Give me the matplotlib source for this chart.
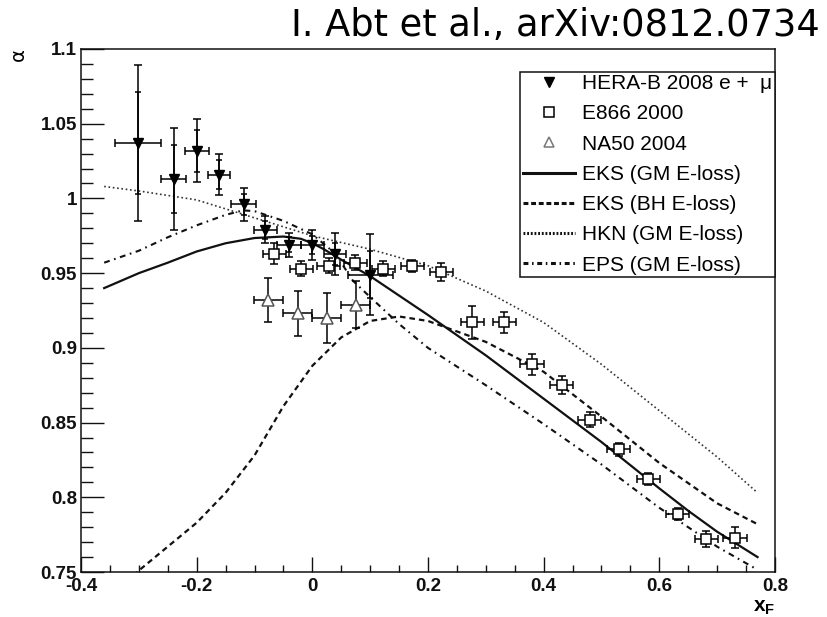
import matplotlib
matplotlib.use("Agg")
import matplotlib.pyplot as plt
from matplotlib.lines import Line2D
from matplotlib.ticker import MultipleLocator, FixedLocator

# HERA-B 2008 (e + mu), total and statistical errors
herab_x = [-0.301, -0.240, -0.200, -0.161, -0.119, -0.081, -0.040, 0.000, 0.039, 0.100]
herab_y = [1.037, 1.013, 1.032, 1.016, 0.996, 0.979, 0.969, 0.969, 0.963, 0.949]
herab_xerr = [0.040, 0.021, 0.021, 0.019, 0.021, 0.020, 0.021, 0.020, 0.019, 0.039]
herab_tot = [0.052, 0.034, 0.021, 0.014, 0.011, 0.009, 0.008, 0.010, 0.014, 0.027]
herab_stat = [0.034, 0.023, 0.014, 0.0095, 0.007, 0.006, 0.005, 0.006, 0.0075, 0.0155]

# E866 2000
e866_x = [-0.066, -0.019, 0.028, 0.074, 0.123, 0.173, 0.223, 0.277, 0.332, 0.380,
          0.431, 0.480, 0.530, 0.581, 0.632, 0.681, 0.731]
e866_y = [0.963, 0.953, 0.955, 0.957, 0.953, 0.955, 0.951, 0.917, 0.917, 0.889,
          0.875, 0.852, 0.832, 0.812, 0.789, 0.772, 0.773]
e866_xerr = [0.020] * 17
e866_yerr = [0.007, 0.005, 0.005, 0.005, 0.005, 0.004, 0.006, 0.011, 0.007, 0.007,
             0.006, 0.005, 0.0045, 0.004, 0.004, 0.0055, 0.007]

# NA50 2004
na50_x = [-0.076, -0.025, 0.025, 0.075]
na50_y = [0.932, 0.923, 0.920, 0.929]
na50_xerr = [0.025, 0.025, 0.025, 0.025]
na50_yerr = [0.015, 0.015, 0.017, 0.016]

# model curves
eks_gm_x = [-0.36, -0.3, -0.25, -0.2, -0.15, -0.1, -0.05, -0.02, 0.0, 0.02, 0.05, 0.1,
            0.15, 0.2, 0.3, 0.4, 0.5, 0.6, 0.65, 0.7, 0.77]
eks_gm_y = [0.940, 0.950, 0.957, 0.9645, 0.970, 0.9735, 0.9745, 0.973, 0.970, 0.966, 0.959, 0.948,
            0.935, 0.922, 0.895, 0.866, 0.837, 0.806, 0.791, 0.777, 0.760]

eks_bh_x = [-0.36, -0.3, -0.25, -0.2, -0.15, -0.1, -0.05, 0.0, 0.05, 0.1, 0.15, 0.2,
            0.3, 0.4, 0.5, 0.6, 0.7, 0.77]
eks_bh_y = [0.731, 0.751, 0.767, 0.783, 0.803, 0.828, 0.861, 0.888, 0.907, 0.918, 0.921, 0.918,
            0.904, 0.884, 0.854, 0.823, 0.796, 0.782]

hkn_x = [-0.36, -0.3, -0.2, -0.1, 0.0, 0.1, 0.2, 0.3, 0.4, 0.5, 0.6, 0.7, 0.77]
hkn_y = [1.008, 1.005, 0.999, 0.987, 0.975, 0.966, 0.955, 0.938, 0.917, 0.889, 0.858, 0.827, 0.803]

eps_x = [-0.36, -0.3, -0.25, -0.2, -0.15, -0.12, -0.1, -0.05, 0.0, 0.04, 0.07, 0.1,
         0.15, 0.2, 0.3, 0.4, 0.5, 0.6, 0.7, 0.77]
eps_y = [0.957, 0.965, 0.974, 0.982, 0.989, 0.992, 0.9915, 0.985, 0.976, 0.963, 0.945, 0.934,
         0.916, 0.900, 0.875, 0.849, 0.822, 0.793, 0.767, 0.7515]

x_ticks = [-0.4, -0.2, 0, 0.2, 0.4, 0.6, 0.8]
x_labels = ["-0.4", "-0.2", "0", "0.2", "0.4", "0.6", "0.8"]
y_ticks = [0.75, 0.8, 0.85, 0.9, 0.95, 1.0, 1.05, 1.1]
y_labels = ["0.75", "0.8", "0.85", "0.9", "0.95", "1", "1.05", "1.1"]

labels = ["HERA-B 2008 e +  \u03bc", "E866 2000", "NA50 2004",
          "EKS (GM E-loss)", "EKS (BH E-loss)", "HKN (GM E-loss)", "EPS (GM E-loss)"]


def main():
    plt.rcParams["mathtext.fontset"] = "custom"
    plt.rcParams["mathtext.rm"] = "Liberation Sans:bold"
    plt.rcParams["mathtext.it"] = "Liberation Sans:bold"

    fig = plt.figure(figsize=(8.27, 6.17), dpi=100)
    ax = fig.add_axes([0.098, 0.0729, 0.839, 0.8477])

    lc = "#111111"
    ax.plot(eks_gm_x, eks_gm_y, color=lc, lw=1.6, zorder=2)
    ax.plot(eks_bh_x, eks_bh_y, color=lc, lw=1.6, dashes=(2.5, 1.8), zorder=2)
    ax.plot(hkn_x, hkn_y, color="#333333", lw=1.2, dashes=(1, 1.6), zorder=2)
    ax.plot(eps_x, eps_y, color=lc, lw=1.5, dashes=(2.8, 2.2, 0.8, 2.2), zorder=2)

    ek = dict(elinewidth=1.1, capthick=1.1, ecolor="k")
    ax.errorbar(herab_x, herab_y, xerr=herab_xerr, yerr=herab_tot, fmt="v", color="k",
                ms=7.5, capsize=2.6, zorder=4, **ek)
    ax.errorbar(herab_x, herab_y, yerr=herab_stat, fmt="none", capsize=2.2, zorder=4, **ek)
    ax.errorbar(e866_x, e866_y, xerr=e866_xerr, yerr=e866_yerr, fmt="s", mfc="white",
                mec="k", mew=1.1, ms=7.5, capsize=2.6, zorder=3, **ek)
    ax.errorbar(na50_x, na50_y, xerr=na50_xerr, yerr=na50_yerr, fmt="^", mfc="white",
                mec="#555555", mew=1.1, ms=8, capsize=2.6, zorder=3, **ek)

    ax.set_xlim(-0.4, 0.8)
    ax.set_ylim(0.75, 1.1)
    ax.xaxis.set_major_locator(FixedLocator(x_ticks))
    ax.set_xticklabels(x_labels)
    ax.yaxis.set_major_locator(FixedLocator(y_ticks))
    ax.set_yticklabels(y_labels)
    ax.xaxis.set_minor_locator(MultipleLocator(0.05))
    ax.yaxis.set_minor_locator(MultipleLocator(0.01))
    ax.tick_params(which="both", direction="in", top=False, right=False, width=1.0, colors="#111111")
    ax.tick_params(axis="y", which="major", length=16.6, pad=3)
    ax.tick_params(axis="y", which="minor", length=8.6)
    ax.tick_params(axis="x", which="major", length=10.8, pad=4)
    ax.tick_params(axis="x", which="minor", length=5)
    for lab in ax.get_xticklabels() + ax.get_yticklabels():
        lab.set_fontfamily("Liberation Sans")
        lab.set_fontweight("bold")
        lab.set_fontsize(13.5)
    for sp in ax.spines.values():
        sp.set_linewidth(1.1)
        sp.set_color("#111111")

    handles = [
        Line2D([], [], marker="v", ls="none", color="k", ms=7),
        Line2D([], [], marker="s", ls="none", mfc="white", mec="k", mew=1.1, ms=7.5),
        Line2D([], [], marker="^", ls="none", mfc="white", mec="#777777", mew=1.1, ms=7.5),
        Line2D([], [], color=lc, lw=2.2),
        Line2D([], [], color=lc, lw=2.2, dashes=(1.6, 0.9)),
        Line2D([], [], color=lc, lw=2.2, dashes=(0.6, 0.6)),
        Line2D([], [], color=lc, lw=2.2, dashes=(1.6, 1.2, 0.5, 1.2)),
    ]
    leg = ax.legend(handles, labels, loc="upper right", bbox_to_anchor=(1.0, 0.9566),
                    borderaxespad=0, fancybox=False, framealpha=1, edgecolor="#111111",
                    prop={"family": "Liberation Sans", "size": 15}, handlelength=2.5,
                    handletextpad=0.35, labelspacing=0.54, borderpad=0.12)
    leg.get_frame().set_linewidth(1.1)

    ax.text(1.0, -0.067, r"$x_F$", transform=ax.transAxes, ha="right", va="center", fontsize=15)
    fig.text(18 / 827, 1 - 55 / 617, "\u03b1", rotation=90, ha="center", va="center",
             fontsize=14, family="DejaVu Sans")
    fig.text(820 / 827, 1 - 25 / 617, "I. Abt et al., arXiv:0812.0734", ha="right",
             va="center", fontsize=26.5, family="DejaVu Sans")

    fig.savefig("out.png", dpi=100)


if __name__ == "__main__":
    main()
